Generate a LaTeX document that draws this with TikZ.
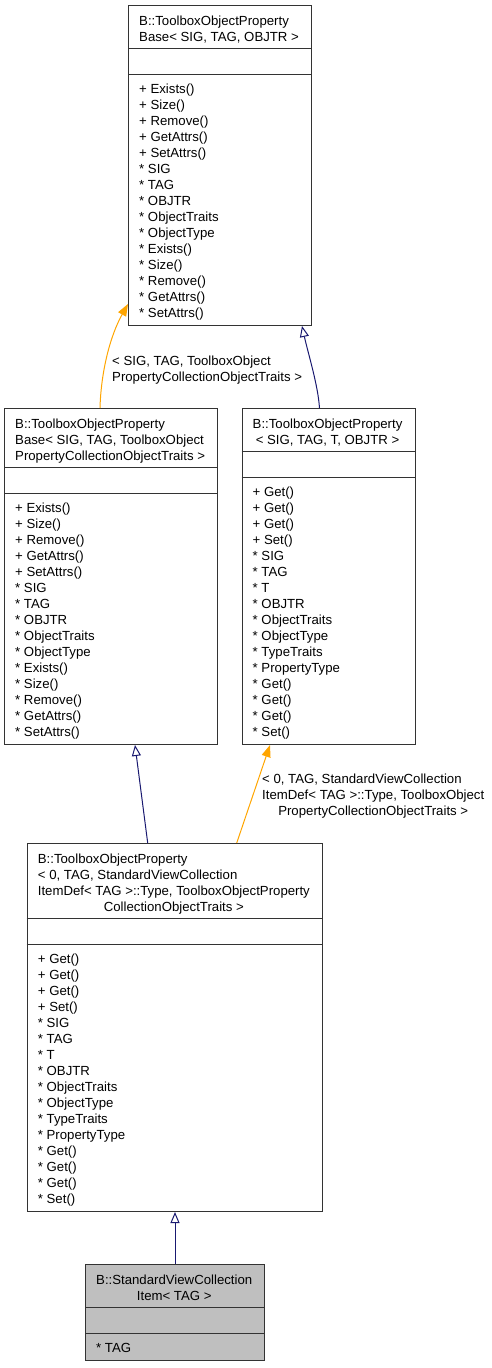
\documentclass[tikz,border=0pt]{standalone}
\usepackage{fontspec}
\setmainfont{Liberation Sans}
\usetikzlibrary{arrows.meta,positioning,calc}

\definecolor{edgeBlue}{HTML}{191970}
\definecolor{edgeOrange}{HTML}{FFA500}

% last line of a label is centred under the wider lines
\newcommand{\lastrow}[1]{\multicolumn{1}{@{}c@{}}{#1}}

\begin{document}
\begin{tikzpicture}[
        x=1pt, y=-1pt,
        classBox/.style={
            draw=black!80,
            line width=1pt,
            fill=white,
            anchor=north west,
            inner sep=0pt
        },
        focusBox/.style={
            classBox,
            fill=gray!50
        },
        divider/.style={
            draw=black!80,
            line width=1pt
        },
        boxText/.style={
            anchor=base west,
            inner sep=0pt,
            font=\fontsize{13.2}{16}\selectfont
        },
        inherit/.style={
            -{Triangle[open, length=11pt, width=9pt]},
            line width=1pt,
            draw=edgeBlue
        },
        instance/.style={
            -{Triangle[length=12pt, width=9pt]},
            line width=1pt,
            draw=edgeOrange
        }
    ]

        \useasboundingbox (0,0) rectangle (491,1368);

        % Class boxes
        \node[classBox, minimum width=183pt, minimum height=320pt]
            (baseGeneric) at (128,5) {};
        \node[classBox, minimum width=213pt, minimum height=336pt]
            (baseColl) at (4,408) {};
        \node[classBox, minimum width=173pt, minimum height=336pt]
            (propGeneric) at (241.5,408) {};
        \node[classBox, minimum width=295.6pt, minimum height=368pt]
            (propColl) at (26.7,843) {};
        \node[focusBox, minimum width=179pt, minimum height=96pt]
            (viewItem) at (85,1264) {};

        % Compartment dividers
        \foreach \cls/\offset in {baseGeneric/43, baseGeneric/69.5,
                                  baseColl/59, baseColl/85.5,
                                  propGeneric/43, propGeneric/69.5,
                                  propColl/75, propColl/101.5,
                                  viewItem/43, viewItem/69.5}
        {
            \draw[divider]
            ($(\cls.north west)+(0,\offset)$)
            --
            ($(\cls.north east)+(0,\offset)$);
        }

        % Class titles
        \node[boxText] (baseGenericTitle)
            at ($(baseGeneric.north west)+(11,20)$)
            {\begin{tabular}[t]{@{}l@{}}B::ToolboxObjectProperty\\
             Base< SIG, TAG, OBJTR >\end{tabular}};

        \node[boxText] (baseCollTitle)
            at ($(baseColl.north west)+(11,20)$)
            {\begin{tabular}[t]{@{}l@{}}B::ToolboxObjectProperty\\
             Base< SIG, TAG, ToolboxObject\\
             PropertyCollectionObjectTraits >\end{tabular}};

        \node[boxText] (propGenericTitle)
            at ($(propGeneric.north west)+(11,20)$)
            {\begin{tabular}[t]{@{}l@{}}B::ToolboxObjectProperty\\
             \lastrow{< SIG, TAG, T, OBJTR >}\end{tabular}};

        \node[boxText] (propCollTitle)
            at ($(propColl.north west)+(11,20)$)
            {\begin{tabular}[t]{@{}l@{}}B::ToolboxObjectProperty\\
             < 0, TAG, StandardViewCollection\\
             ItemDef< TAG >::Type, ToolboxObjectProperty\\
             \lastrow{CollectionObjectTraits >}\end{tabular}};

        \node[boxText] (viewItemTitle)
            at ($(viewItem.north west)+(11,20)$)
            {\begin{tabular}[t]{@{}l@{}}B::StandardViewCollection\\
             \lastrow{Item< TAG >}\end{tabular}};

        % Member lists
        \node[boxText] (baseGenericMembers)
            at ($(baseGeneric.north west)+(11,88.5)$)
            {\begin{tabular}[t]{@{}l@{}}+ Exists()\\+ Size()\\+ Remove()\\
             + GetAttrs()\\+ SetAttrs()\\
             {}* SIG\\{}* TAG\\{}* OBJTR\\
             {}* ObjectTraits\\{}* ObjectType\\{}* Exists()\\{}* Size()\\
             {}* Remove()\\{}* GetAttrs()\\{}* SetAttrs()\end{tabular}};

        \node[boxText] (baseCollMembers)
            at ($(baseColl.north west)+(11,104.5)$)
            {\begin{tabular}[t]{@{}l@{}}+ Exists()\\+ Size()\\+ Remove()\\
             + GetAttrs()\\+ SetAttrs()\\
             {}* SIG\\{}* TAG\\{}* OBJTR\\
             {}* ObjectTraits\\{}* ObjectType\\{}* Exists()\\{}* Size()\\
             {}* Remove()\\{}* GetAttrs()\\{}* SetAttrs()\end{tabular}};

        \node[boxText] (propGenericMembers)
            at ($(propGeneric.north west)+(11,88.5)$)
            {\begin{tabular}[t]{@{}l@{}}+ Get()\\+ Get()\\+ Get()\\+ Set()\\
             {}* SIG\\{}* TAG\\{}* T\\{}* OBJTR\\{}* ObjectTraits\\{}* ObjectType\\
             {}* TypeTraits\\{}* PropertyType\\{}* Get()\\{}* Get()\\{}* Get()\\
             {}* Set()\end{tabular}};

        \node[boxText] (propCollMembers)
            at ($(propColl.north west)+(11,120.5)$)
            {\begin{tabular}[t]{@{}l@{}}+ Get()\\+ Get()\\+ Get()\\+ Set()\\
             {}* SIG\\{}* TAG\\{}* T\\{}* OBJTR\\{}* ObjectTraits\\{}* ObjectType\\
             {}* TypeTraits\\{}* PropertyType\\{}* Get()\\{}* Get()\\{}* Get()\\
             {}* Set()\end{tabular}};

        \node[boxText] (viewItemMembers)
            at ($(viewItem.north west)+(11,88.5)$)
            {\begin{tabular}[t]{@{}l@{}}* TAG\end{tabular}};

        % Template instantiations
        \draw[instance]
            ($(baseColl.north west)+(96,0)$)
            .. controls ($(baseColl.north west)+(97,-36)$)
            and ($(baseGeneric.south west)+(-18,10)$) ..
            ($(baseGeneric.south west)+(0,-22)$);

        \draw[instance]
            ($(propColl.north west)+(210,0)$)
            --
            ($(propGeneric.south west)+(28.5,0)$);

        % Inheritance
        \draw[inherit]
            ($(propGeneric.north west)+(78,0)$)
            .. controls ($(propGeneric.north west)+(76.5,-23)$)
            and ($(baseGeneric.south west)+(180,27)$) ..
            ($(baseGeneric.south west)+(174,0)$);

        \draw[inherit]
            ($(propColl.north west)+(121,0)$)
            --
            ($(baseColl.south west)+(131,0)$);

        \draw[inherit] (viewItem.north) -- (propColl.south);

        % Template argument labels
        \node[boxText] (baseCollLabel) at (112,365)
            {\begin{tabular}[t]{@{}l@{}}< SIG, TAG, ToolboxObject\\
             PropertyCollectionObjectTraits >\end{tabular}};

        \node[boxText] (propCollLabel) at (262,783)
            {\begin{tabular}[t]{@{}l@{}}< 0, TAG, StandardViewCollection\\
             ItemDef< TAG >::Type, ToolboxObject\\
             \lastrow{PropertyCollectionObjectTraits >}\end{tabular}};

    \end{tikzpicture}
\end{document}
